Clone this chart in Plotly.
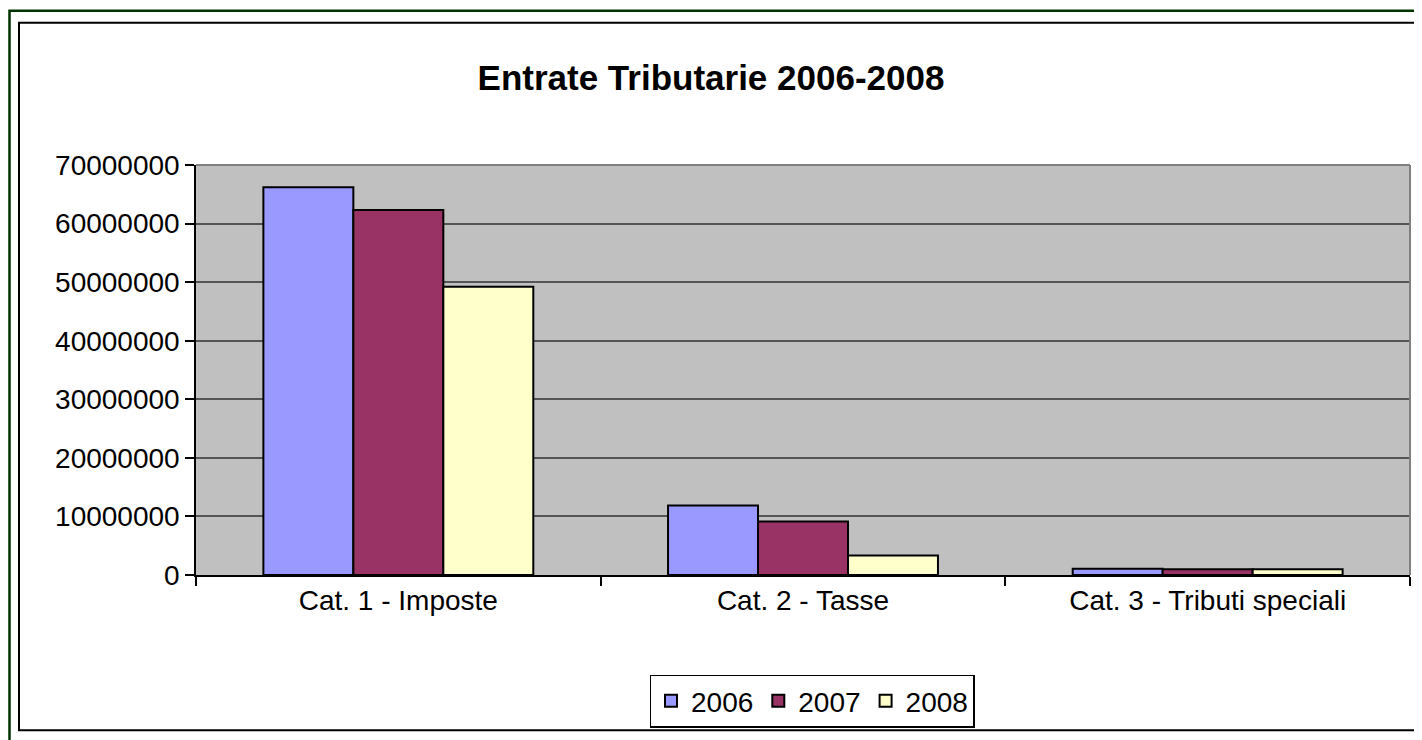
import plotly.graph_objects as go

# Data
categories = ["Cat. 1 - Imposte", "Cat. 2 - Tasse", "Cat. 3 - Tributi speciali"]
years = ["2006", "2007", "2008"]
values_2006 = [66200000, 11850000, 1050000]
values_2007 = [62300000, 9150000, 1000000]
values_2008 = [49200000, 3350000, 1000000]
y_ticks = [0, 10000000, 20000000, 30000000, 40000000, 50000000, 60000000, 70000000]

colors = ["#9999FF", "#993366", "#FFFFCC"]
series = [values_2006, values_2007, values_2008]

# the page puts the figure 8px in from the top-left corner
OFF = 8
W, H = 1422 - OFF, 740 - OFF
L, R, T, B = 196 - OFF, 1410 - OFF, 165 - OFF, 577 - OFF  # plot area in pixels


def px(x):
    return (x - OFF - L) / (R - L)


def py(y):
    return (B - (y - OFF)) / (B - T)


font = "Liberation Sans, Arial, sans-serif"

fig = go.Figure()
for name, vals, col in zip(years, series, colors):
    fig.add_trace(go.Bar(
        x=categories,
        y=vals,
        name=name,
        marker=dict(color=col, line=dict(color="black", width=2)),
    ))

fig.update_layout(
    width=W,
    height=H,
    margin=dict(l=L, r=W - R, t=T, b=H - B),
    paper_bgcolor="white",
    plot_bgcolor="#C0C0C0",
    barmode="group",
    bargap=0.333,
    bargroupgap=0,
    font=dict(family=font, size=28, color="black"),
    title=dict(
        text="<b>Entrate Tributarie 2006-2008</b>",
        font=dict(family=font, size=35, color="black"),
        x=0.5 * 1422 / W - OFF / W, xref="container", xanchor="center",
        y=1 - (78 - OFF) / H, yref="container", yanchor="middle",
    ),
    showlegend=True,
    legend=dict(
        orientation="h",
        x=px(812), xanchor="center",
        y=py(677), yanchor="top",
        bordercolor="black",
        borderwidth=1.5,
        bgcolor="white",
        font=dict(family=font, size=28, color="black"),
        itemwidth=30,
    ),
)

fig.update_xaxes(
    showline=True, linecolor="black", linewidth=1.5,
    ticks="outside", tickson="boundaries", ticklen=9, tickcolor="black", tickwidth=1.5,
    showgrid=False,
    tickfont=dict(family=font, size=28, color="black"),
)
fig.update_yaxes(
    range=[0, 70000000],
    tickvals=y_ticks,
    tickformat="d",
    showline=True, linecolor="black", linewidth=1.5,
    ticks="outside", ticklen=9, tickcolor="black", tickwidth=1.5,
    showgrid=True, gridcolor="#555555", gridwidth=1.5,
    zeroline=False,
    tickfont=dict(family=font, size=28, color="black"),
)

# plot area border (top and right, gray)
fig.add_shape(type="line", xref="paper", yref="paper", x0=0, x1=1, y0=1, y1=1,
              line=dict(color="#808080", width=2), layer="above")
fig.add_shape(type="line", xref="paper", yref="paper", x0=1, x1=1, y0=0, y1=1,
              line=dict(color="#808080", width=2), layer="above")

# chart area border (black) and outer frame (dark green)
fig.add_shape(type="rect", xref="paper", yref="paper",
              x0=px(19), x1=px(1420), y0=py(733), y1=py(22),
              line=dict(color="black", width=2), layer="below")
fig.add_shape(type="rect", xref="paper", yref="paper",
              x0=px(9.5), x1=px(1440), y0=py(760), y1=py(10),
              line=dict(color="#003300", width=2.5), layer="below")

fig.write_html("out.html")
